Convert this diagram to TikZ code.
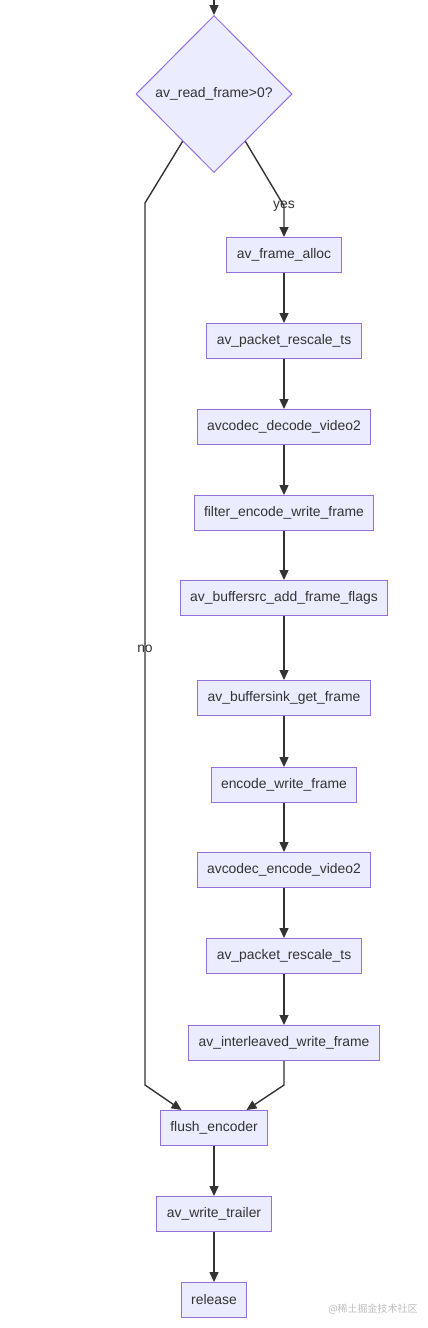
\documentclass[tikz,border=0pt]{standalone}
\usepackage{fontspec}
\setmainfont{Liberation Sans}
\newfontfamily\cjkfont{Noto Sans CJK SC}
\usetikzlibrary{calc,shapes.geometric,arrows.meta}
\definecolor{nodefill}{HTML}{ECECFF}
\definecolor{nodeline}{HTML}{9370DB}
\definecolor{edgeline}{HTML}{333333}
\definecolor{markgray}{HTML}{BDBDBD}

\begin{document}
\begin{tikzpicture}[x=1pt, y=-1pt,
  box/.style={draw=nodeline, fill=nodefill, line width=1pt,
              font=\fontsize{13.9pt}{16pt}\selectfont, text=edgeline,
              inner xsep=10pt, inner ysep=0pt, minimum height=35pt},
  test/.style={diamond, draw=nodeline, fill=nodefill, line width=1pt,
               font=\fontsize{13.9pt}{16pt}\selectfont, text=edgeline,
               inner sep=0pt, minimum width=156pt, minimum height=157pt},
  ar/.style={-{Triangle[length=10pt, width=9pt]}, line width=1.4pt, draw=edgeline},
  lbl/.style={font=\fontsize{13.9pt}{16pt}\selectfont, text=edgeline, inner sep=1pt}
]
  \useasboundingbox (0,0) rectangle (428,1328);

  \coordinate (start) at (214,0);
  \node[test] (read) at (214,94) {av\_read\_frame>0?};

  \node[box] (alloc)   at (284,255)  {av\_frame\_alloc};
  \node[box] (rescale) at (284,341)  {av\_packet\_rescale\_ts};
  \node[box] (decode)  at (284,427)  {avcodec\_decode\_video2};
  \node[box] (filter)  at (284,513)  {filter\_encode\_write\_frame};
  \node[box] (bsrc)    at (284,598)  {av\_buffersrc\_add\_frame\_flags};
  \node[box] (bsink)   at (284,698)  {av\_buffersink\_get\_frame};
  \node[box] (encw)    at (284,785)  {encode\_write\_frame};
  \node[box] (encode)  at (284,870)  {avcodec\_encode\_video2};
  \node[box] (rescaleb) at (284,956) {av\_packet\_rescale\_ts};
  \node[box] (ilwrite) at (284,1043) {av\_interleaved\_write\_frame};

  \node[box] (flush)   at (214,1128) {flush\_encoder};
  \node[box] (trailer) at (214,1214) {av\_write\_trailer};
  \node[box] (release) at (214,1300) {release};

  \coordinate (yesbend) at (284,206);
  \coordinate (nobend)  at (145,203);
  \coordinate (nojoin)  at (145,1085);
  \coordinate (iljoin)  at (284,1085);

  \draw[ar] (start) -- (read.north);
  \draw[ar] ($(read.south)!0.4!(read.east)$) -- (yesbend)
        node[lbl] {yes} -- (alloc.north);
  \draw[ar] ($(read.south)!0.4!(read.west)$) -- (nobend)
        -- node[lbl, pos=0.505] {no} (nojoin) -- ($(flush.north)!0.6!(flush.north west)$);

  \draw[ar] (alloc) -- (rescale);
  \draw[ar] (rescale) -- (decode);
  \draw[ar] (decode) -- (filter);
  \draw[ar] (filter) -- (bsrc);
  \draw[ar] (bsrc) -- (bsink);
  \draw[ar] (bsink) -- (encw);
  \draw[ar] (encw) -- (encode);
  \draw[ar] (encode) -- (rescaleb);
  \draw[ar] (rescaleb) -- (ilwrite);
  \draw[ar] (ilwrite) -- (iljoin) -- ($(flush.north)!0.6!(flush.north east)$);

  \draw[ar] (flush) -- (trailer);
  \draw[ar] (trailer) -- (release);

  \node[font=\cjkfont\fontsize{10pt}{12pt}\selectfont, text=markgray]
       (mark) at (373,1309) {@稀土掘金技术社区};
\end{tikzpicture}
\end{document}
